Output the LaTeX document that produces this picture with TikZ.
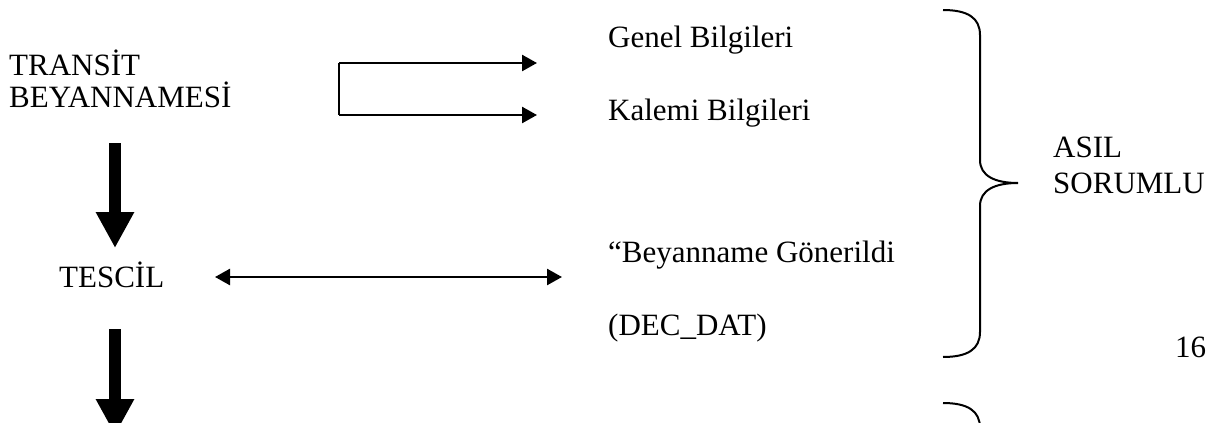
\documentclass[tikz,border=0pt]{standalone}
\usepackage{fontspec}
\setmainfont{Liberation Serif}
\usetikzlibrary{arrows.meta}
\begin{document}
\begin{tikzpicture}[x=1pt,y=-1pt,
  lbl/.style={anchor=base west,inner sep=0pt,font=\fontsize{31}{33}\selectfont},
  thin arrow/.style={line width=2.5pt,-{Triangle[length=15pt,width=16pt]}},
  both arrow/.style={line width=2.5pt,{Triangle[length=15pt,width=16pt]}-{Triangle[length=15pt,width=16pt]}},
  big arrow/.style={line width=12pt,line cap=butt,-{Triangle[length=36pt,width=36pt]}},
  brace line/.style={line width=2pt}]
\useasboundingbox (0,0) rectangle (1221,423);
% texts
\node[lbl] (tr) at (9,75) {TRANSİT};
\node[lbl] (bey) at (9,107) {BEYANNAMESİ};
\node[lbl] (tes) at (59,287) {TESCİL};
\node[lbl] (gen) at (608,47) {Genel Bilgileri};
\node[lbl] (kal) at (608,120) {Kalemi Bilgileri};
\node[lbl] (gon) at (608,262) {“Beyanname Gönerildi};
\node[lbl] (dec) at (608,335) {(DEC\_DAT)};
\node[lbl] (asil) at (1053,157) {ASIL};
\node[lbl] (sor) at (1053,193) {SORUMLU};
\node[lbl] (pg) at (1175,357) {16};
% elbow arrows
\coordinate (e1) at (339,63);
\coordinate (e2) at (339,115);
\coordinate (g1) at (537,63);
\coordinate (k1) at (537,115);
\draw[line width=2.5pt] (e1) -- (e2);
\draw[thin arrow] (e1) -- (g1);
\draw[thin arrow] (e2) -- (k1);
% double arrow
\coordinate (d1) at (215,277);
\coordinate (d2) at (562,277);
\draw[both arrow] (d1) -- (d2);
% big arrows
\coordinate (a1s) at (115,143);
\coordinate (a1e) at (115,248);
\coordinate (a2s) at (115,329);
\coordinate (a2e) at (115,435);
\draw[big arrow] (a1s) -- (a1e);
\draw[big arrow] (a2s) -- (a2e);
% brace
\draw[brace line] (943,10) .. controls (968,10) and (980,18) .. (980,35)
  -- (980,160) .. controls (980,176) and (995,183) .. (1018,183)
  .. controls (995,183) and (980,190) .. (980,206)
  -- (980,332) .. controls (980,349) and (968,357) .. (943,357);
% second brace start
\draw[brace line] (943,403) .. controls (968,403) and (980,411) .. (980,428) -- (980,440);
\end{tikzpicture}
\end{document}
